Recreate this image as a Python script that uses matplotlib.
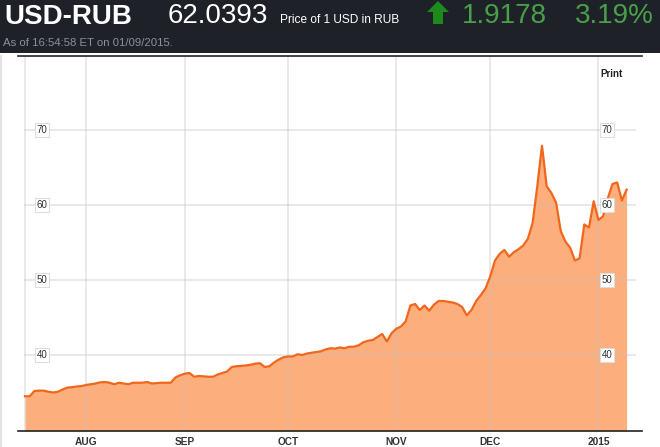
import numpy as np
import pandas as pd
import matplotlib
matplotlib.use("Agg")
import matplotlib.pyplot as plt
from matplotlib.patches import Rectangle, Polygon
from matplotlib.lines import Line2D

plt.rcParams['font.family'] = ['Liberation Sans', 'DejaVu Sans']

# USD-RUB daily closes, business days from 2014-07-15 to 2015-01-09
rate = [34.5, 34.5, 35.2, 35.25, 35.25, 35.1, 35.0, 35.1, 35.4, 35.65,
        35.7, 35.8, 35.85, 36.0, 36.1, 36.2, 36.35, 36.4, 36.3, 36.1,
        36.3, 36.2, 36.1, 36.3, 36.3, 36.3, 36.4, 36.2, 36.25, 36.3,
        36.3, 36.3, 37.0, 37.3, 37.5, 37.6, 37.1, 37.2, 37.15, 37.1,
        37.1, 37.4, 37.6, 37.8, 38.4, 38.5, 38.55, 38.6, 38.7, 38.85,
        38.9, 38.4, 38.5, 39.0, 39.4, 39.7, 39.8, 39.8, 40.1, 40.0,
        40.2, 40.3, 40.4, 40.5, 40.75, 40.9, 40.85, 41.0, 40.9, 41.1,
        41.1, 41.3, 41.7, 41.9, 42.0, 42.4, 42.8, 41.8, 42.9, 43.5,
        43.8, 44.5, 46.6, 46.8, 46.0, 46.6, 45.9, 46.7, 47.2, 47.2,
        47.1, 47.0, 46.8, 46.4, 45.3, 46.0, 47.2, 48.0, 48.9, 50.5,
        52.6, 53.5, 54.0, 53.1, 53.7, 54.1, 54.6, 55.5, 57.6, 62.5,
        67.9, 62.5, 61.6, 60.3, 56.5, 55.1, 54.3, 52.6, 52.9, 57.4,
        57.0, 60.5, 58.0, 58.5, 60.9, 62.8, 63.0, 60.6, 62.04]
start_date = '2014-07-15'
month_labels = ['AUG', 'SEP', 'OCT', 'NOV', 'DEC', '2015']
y_ticks = [40, 50, 60, 70]

W, H = 660, 447
dates = pd.bdate_range(start_date, periods=len(rate))
x = np.arange(len(rate))
month_idx = [int(np.argmax((dates.month == m) & (dates.year == yr)))
             for m, yr in [(8, 2014), (9, 2014), (10, 2014), (11, 2014), (12, 2014), (1, 2015)]]


def fx(px):
    return px / W


def fy(py):
    return 1 - py / H


fig = plt.figure(figsize=(W / 100, H / 100), dpi=100)
fig.patch.set_facecolor('white')

# header band
fig.patches.append(Rectangle((0, fy(53)), 1, 53 / H, transform=fig.transFigure,
                             facecolor='#1e2128', edgecolor='none', zorder=0))
fig.text(fx(4), fy(24), 'USD-RUB', color='white', fontsize=20, fontweight='bold', va='baseline')
fig.text(fx(168), fy(23), '62.0393', color='white', fontsize=20, va='baseline')
fig.text(fx(280), fy(23), 'Price of 1 USD in RUB', color='white', fontsize=8.6, va='baseline')
arrow = [(438, 1), (449, 12), (443, 12), (443, 24), (433, 24), (433, 12), (427, 12)]
fig.patches.append(Polygon([(fx(a), fy(b)) for a, b in arrow], closed=True,
                           transform=fig.transFigure, facecolor='#1d8a1d', edgecolor='none'))
fig.text(fx(462), fy(23), '1.9178', color='#48a048', fontsize=20, va='baseline')
fig.text(fx(575), fy(23), '3.19%', color='#48a048', fontsize=20, va='baseline')
fig.text(fx(3), fy(46), 'As of 16:54:58 ET on 01/09/2015.', color='#8b9099', fontsize=8.2, va='baseline')

# frame lines
fig.add_artist(Line2D([fx(18), fx(642)], [fy(55.5), fy(55.5)], color='#222222', lw=1.2))
fig.add_artist(Line2D([fx(1), fx(1)], [fy(56), 0], color='#e2e2e2', lw=1.5))

ax = fig.add_axes([fx(18), 1 - 431 / H, (642 - 18) / W, (431 - 56) / H])
px_per_day = 4.7
ax.set_xlim((18 - 25) / px_per_day, (642 - 25) / px_per_day)
ax.set_ylim(70 - (431 - 130) / 7.5, 70 + (130 - 56) / 7.5)

ax.fill_between(x, ax.get_ylim()[0], rate, color='#fdae7d', lw=0, zorder=1)
ax.plot(x, rate, color='#f0661a', lw=1.6, zorder=3)

grid_right = (635 - 25) / px_per_day
for v in y_ticks:
    ax.plot([0, grid_right], [v, v], color='#c0c0c0', alpha=0.35, lw=1.4, zorder=2)
for i in [0] + month_idx:
    ax.axvline(i, color='#c0c0c0', alpha=0.35, lw=1.4, zorder=2)

box = dict(boxstyle='square,pad=0.2', facecolor='white', edgecolor='#dddddd', lw=0.8)
for v in y_ticks:
    ax.text((42 - 25) / px_per_day, v, str(v), fontsize=7, color='#333333',
            ha='center', va='center', bbox=box, zorder=4)
    ax.text((607 - 25) / px_per_day, v, str(v), fontsize=7, color='#333333',
            ha='center', va='center', bbox=box, zorder=4)
ax.text((611 - 25) / px_per_day, 70 + (130 - 74) / 7.5, 'Print', fontsize=7,
        fontweight='bold', color='#222222', ha='center', va='center')

ax.set_xticks(month_idx)
ax.set_xticklabels(month_labels, fontsize=7.3, fontweight='bold', color='#333333')
ax.tick_params(axis='x', length=0, pad=4)
ax.set_yticks([])
for s in ['top', 'left', 'right']:
    ax.spines[s].set_visible(False)
ax.spines['bottom'].set_color('#222222')
ax.spines['bottom'].set_linewidth(1.2)

fig.savefig('out.png', dpi=100)
